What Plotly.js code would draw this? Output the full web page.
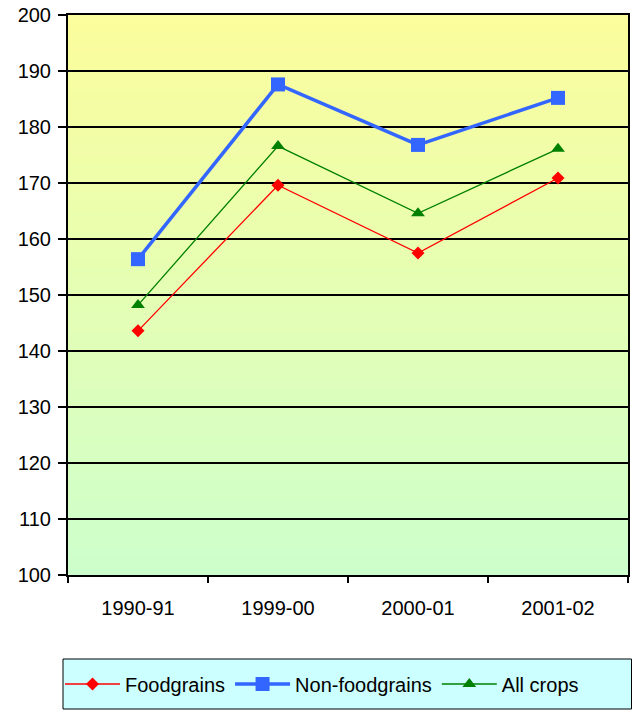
<!DOCTYPE html>
<html>
<head>
<meta charset="utf-8">
<script src="https://cdn.plot.ly/plotly-3.0.1.min.js"></script>
<style>html,body{margin:0;padding:0;background:#fff;}#chart{width:632px;height:710px;}</style>
</head>
<body>
<div id="chart"></div>
<script>
const categories = ["1990-91", "1999-00", "2000-01", "2001-02"];
const foodgrains = [143.6, 169.6, 157.5, 170.9];
const nonFoodgrains = [156.4, 187.6, 176.8, 185.2];
const allCrops = [148.2, 176.6, 164.6, 176.1];
const yTicks = [100, 110, 120, 130, 140, 150, 160, 170, 180, 190, 200];

// background gradient bands (yellow top -> light green bottom)
const gradTop = [252, 253, 156], gradBot = [205, 255, 204];
const shapes = [];
const N = 60;
for (let i = 0; i < N; i++) {
  const t = (i + 0.5) / N; // 0 bottom, 1 top
  const c = gradBot.map((b, k) => Math.round(b + (gradTop[k] - b) * t));
  shapes.push({type: 'rect', xref: 'paper', yref: 'paper', x0: 0, x1: 1,
    y0: i / N, y1: (i + 1) / N + 0.001, fillcolor: `rgb(${c[0]},${c[1]},${c[2]})`,
    line: {width: 0}, layer: 'below'});
}
// legend box
shapes.push({type: 'rect', xref: 'paper', yref: 'paper',
  x0: -5 / 560, x1: 563.5 / 560, y0: -134 / 560, y1: -84 / 560,
  fillcolor: '#CCFFFF', line: {color: '#000', width: 1}, layer: 'below'});

const traces = [
  {x: categories, y: foodgrains, name: 'Foodgrains', type: 'scatter', mode: 'lines+markers',
   line: {color: '#FF0000', width: 1.3}, marker: {symbol: 'diamond', size: 10, color: '#FF0000'}},
  {x: categories, y: nonFoodgrains, name: 'Non-foodgrains', type: 'scatter', mode: 'lines+markers',
   line: {color: '#3366FF', width: 3.5}, marker: {symbol: 'square', size: 14, color: '#3366FF'}},
  {x: categories, y: allCrops, name: 'All crops', type: 'scatter', mode: 'lines+markers',
   line: {color: '#008000', width: 1.3}, marker: {symbol: 'triangle-up', size: 12, color: '#008000'}}
];

const layout = {
  width: 632, height: 710,
  margin: {l: 68, r: 4, t: 15, b: 135},
  paper_bgcolor: '#ffffff', plot_bgcolor: 'rgba(0,0,0,0)',
  font: {family: '"Liberation Sans", Arial, sans-serif', color: '#000', size: 20},
  showlegend: true,
  xaxis: {type: 'category', range: [-0.5, 3.5], tickson: 'boundaries', ticks: 'outside',
    ticklen: 6, tickcolor: '#000', tickwidth: 1.5, showline: true, linecolor: '#000', linewidth: 2,
    mirror: true, showgrid: false, tickfont: {size: 20}, ticklabelstandoff: 14},
  yaxis: {range: [100, 200], tickvals: yTicks, ticks: 'outside', ticklen: 8, tickcolor: '#000',
    tickwidth: 1.5, showline: true, linecolor: '#000', linewidth: 2, mirror: true,
    showgrid: true, gridcolor: '#000', gridwidth: 1.2, zeroline: false, tickfont: {size: 20},
    ticklabelstandoff: 3},
  legend: {orientation: 'h', x: -8 / 560, xanchor: 'left', y: -109 / 560, yanchor: 'middle',
    bgcolor: 'rgba(0,0,0,0)', borderwidth: 0, font: {size: 20}, itemwidth: 55},
  shapes: shapes
};

Plotly.newPlot('chart', traces, layout, {displayModeBar: false, staticPlot: true});
</script>
</body>
</html>
